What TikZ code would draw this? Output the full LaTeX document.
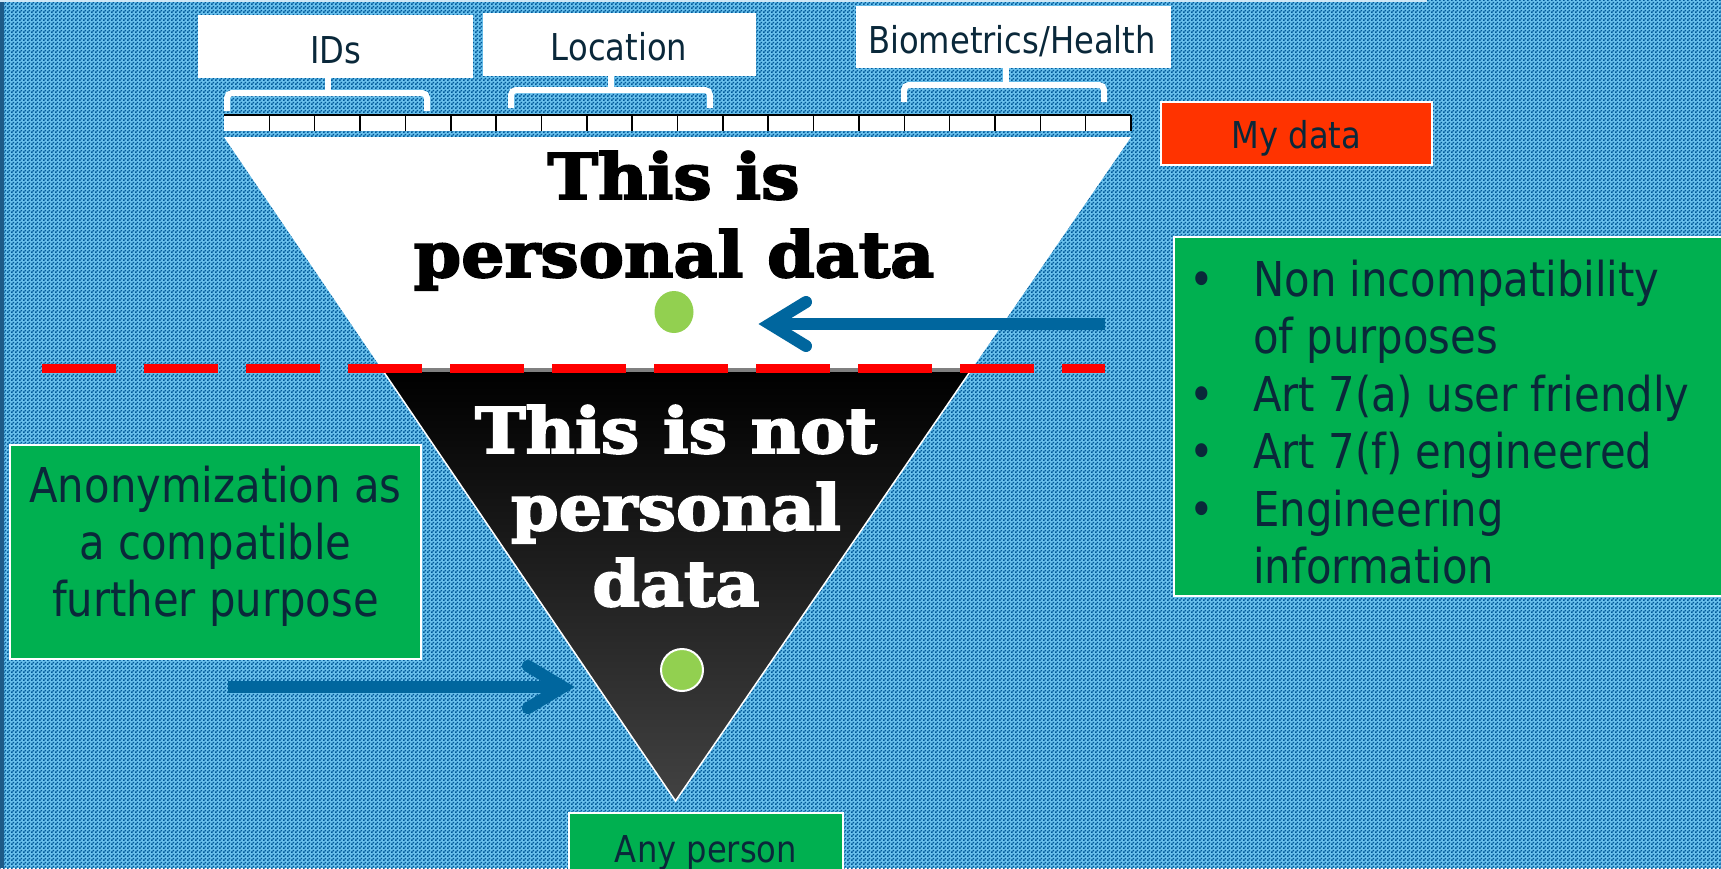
\documentclass[tikz,border=0pt]{standalone}
\usepackage{fontspec}
\setmainfont{DejaVu Sans}
\newfontfamily\labfont[FakeStretch=0.87]{DejaVu Sans}
\newfontfamily\heavyfont[FakeStretch=1.08,FakeBold=3]{DejaVu Serif}
\usetikzlibrary{shapes.geometric,patterns}
\definecolor{chklight}{RGB}{105,192,236}
\definecolor{chkdark}{RGB}{0,88,152}
\definecolor{stripblue}{RGB}{30,90,135}
\definecolor{navy}{RGB}{10,40,58}
\definecolor{grn}{RGB}{0,176,80}
\definecolor{orng}{RGB}{255,51,0}
\definecolor{arrblue}{RGB}{0,102,158}
\definecolor{dotgreen}{RGB}{146,208,80}
\definecolor{shadegray}{RGB}{66,66,66}
\definecolor{toplight}{RGB}{205,230,245}
\pgfdeclarepatternformonly{bgchecker}{\pgfpointorigin}{\pgfpoint{4pt}{4pt}}{\pgfpoint{4pt}{4pt}}{%
  \pgfpathrectangle{\pgfpointorigin}{\pgfpoint{2pt}{2pt}}%
  \pgfpathrectangle{\pgfpoint{2pt}{2pt}}{\pgfpoint{2pt}{2pt}}%
  \pgfusepath{fill}}
\begin{document}
\begin{tikzpicture}[x=1pt,y=-1pt,
  whitebox/.style={fill=white, inner sep=0pt},
  greenbox/.style={fill=grn, draw=white, line width=2pt, inner sep=0pt},
  lab/.style={font=\labfont\fontsize{37}{44}\selectfont, text=navy, inner sep=0pt, anchor=base},
  big/.style={font=\labfont\fontsize{48}{57}\selectfont, text=navy, inner sep=0pt, anchor=base},
  bigleft/.style={big, anchor=base west},
  heavytxt/.style={font=\heavyfont\bfseries\fontsize{63}{75}\selectfont, inner sep=0pt, anchor=base},
  bracket/.style={draw=white, line width=6pt, rounded corners=5pt},
  stem/.style={draw=white, line width=6pt},
  arrshaft/.style={draw=arrblue, line width=12pt},
  arrhead/.style={draw=arrblue, line width=12pt, line cap=round, line join=miter},
  dotstyle/.style={fill=dotgreen, inner sep=0pt}]
\useasboundingbox (0,0) rectangle (1721,868);
% background
\fill[chklight] (0,0) rectangle (1721,868);
\fill[pattern=bgchecker, pattern color=chkdark] (0,0) rectangle (1721,868);
\fill[stripblue] (0,0) rectangle (3.5,868);
\fill[toplight] (0,0) rectangle (1427,1.5);

% top label boxes
\node[whitebox, minimum width=275pt, minimum height=63pt] (idsbox) at (335.5,46.5) {};
\node[lab] (idstxt) at (336,63) {IDs};
\node[whitebox, minimum width=273pt, minimum height=63pt] (locbox) at (619.5,44.5) {};
\node[lab] (loctxt) at (619,60.5) {Location};
\node[whitebox, minimum width=315pt, minimum height=62.5pt] (biobox) at (1013.5,36.75) {};
\node[lab] (biotxt) at (1012,53.3) {Biometrics/Health};
\node[fill=orng, draw=white, line width=1.5pt, inner sep=0pt, minimum width=271pt, minimum height=63pt] (mybox) at (1296.5,133.5) {};
\node[lab] (mytxt) at (1296.5,148.3) {My data};

% brackets
\draw[bracket] (227,111) -- (227,93) -- (427,93) -- (427,111);
\draw[stem] ([xshift=-7.5pt]idsbox.south) -- ++(0,15);
\draw[bracket] (511,108) -- (511,90) -- (710,90) -- (710,108);
\draw[stem] ([xshift=-8.5pt]locbox.south) -- ++(0,14);
\draw[bracket] (904,102) -- (904,85) -- (1104,85) -- (1104,102);
\draw[stem] ([xshift=-7.5pt]biobox.south) -- ++(0,17);

% ruler
\fill[white] (224,115) rectangle (1131,131);
\draw[black, line width=2pt] (224,115) -- (1131,115);
\foreach \k in {1,...,20} \draw[black, line width=1.5pt] ({224+45.35*\k},115) -- ++(0,16);

% funnel
\fill[white] (224,137) -- (1131,137) -- (972.5,368) -- (381,368) -- cycle;
\shade[top color=black, bottom color=shadegray] (383.8,372) -- (969.8,372) -- (675.5,801) -- cycle;
\draw[white, line width=1.5pt] (383.8,372) -- (675.5,801) -- (969.8,372);
\fill[gray] (381,368) rectangle (972.5,372);

% texts in funnel
\node[heavytxt, text=black] (t1) at (673.5,199) {This is};
\node[heavytxt, text=black] (t2) at (674,277) {personal data};
\node[heavytxt, text=white] (n1) at (676,453) {This is not};
\node[heavytxt, text=white] (n2) at (676,530) {personal};
\node[heavytxt, text=white] (n3) at (676,606) {data};

% dots
\node[dotstyle, ellipse, minimum width=39pt, minimum height=42pt] (dotup) at (674,312) {};
\node[dotstyle, circle, draw=white, line width=2pt, minimum size=42pt] (dotlow) at (682,670) {};

% red dashed line
\draw[red, line width=9pt, dash pattern=on 74pt off 28pt] (42,368) -- (1105,368);

% upper arrow (pointing left)
\coordinate (uS) at (1105,324);
\coordinate (uV) at (770,324);
\draw[arrshaft] (uS) -- (uV);
\draw[arrhead] (806,302) -- (uV) -- (806,346);

% lower arrow (pointing right)
\coordinate (lS) at (228,687);
\coordinate (lV) at (563,687);
\draw[arrshaft] (lS) -- (lV);
\draw[arrhead] (528,666) -- (lV) -- (528,708);

% left green box
\node[greenbox, minimum width=411pt, minimum height=214pt] (anonbox) at (215.5,552) {};
\node[big] (a1) at (215.5,502) {Anonymization as};
\node[big] (a2) at (215.5,559) {a compatible};
\node[big] (a3) at (215.5,616) {further purpose};

% right green box
\node[greenbox, minimum width=560pt, minimum height=359pt] (purpbox) at (1454,416.5) {};
\node[big] (b1) at (1202,296) {•};
\node[big] (b2) at (1202,411) {•};
\node[big] (b3) at (1202,468.5) {•};
\node[big] (b4) at (1202,526) {•};
\node[bigleft] (p1) at (1253,296) {Non incompatibility};
\node[bigleft] (p2) at (1253,353.5) {of purposes};
\node[bigleft] (p3) at (1253,411) {Art 7(a) user friendly};
\node[bigleft] (p4) at (1253,468.5) {Art 7(f) engineered};
\node[bigleft] (p5) at (1253,526) {Engineering};
\node[bigleft] (p6) at (1253,583.5) {information};

% any person box
\node[greenbox, minimum width=274pt, minimum height=70pt] (anybox) at (706,848) {};
\node[lab] (anytxt) at (706,862) {Any person};
\end{tikzpicture}
\end{document}
